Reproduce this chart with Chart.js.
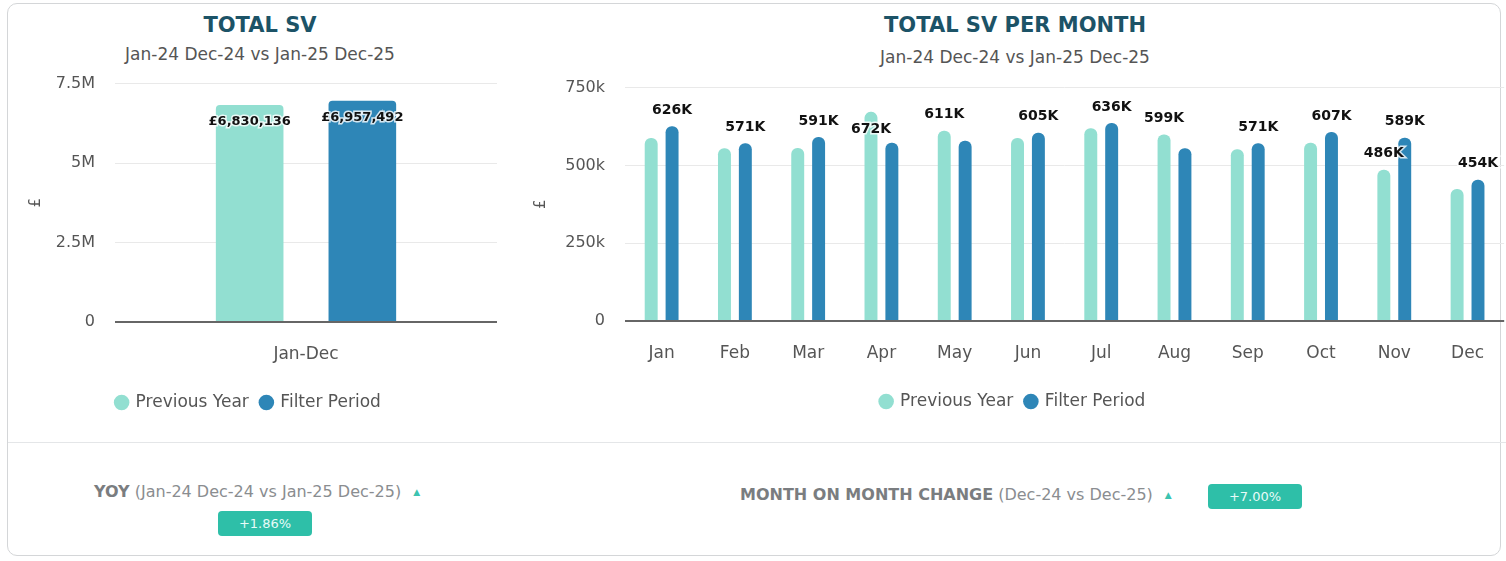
<!DOCTYPE html>
<html>
<head>
<meta charset="utf-8">
<script src="https://cdn.jsdelivr.net/npm/chart.js@4"></script>
<style>
  body { margin: 0; background: #fff; font-family: 'DejaVu Sans', sans-serif; }
  #wrap { position: relative; width: 1506px; height: 561px; overflow: hidden; }
  .card { position: absolute; left: 7px; top: 3px; width: 1494px; height: 553px;
          border: 1.5px solid #d4d6d8; border-radius: 10px; box-sizing: border-box; }
  .divider { position: absolute; left: 8px; top: 442px; width: 1498px; height: 1px; background: #e4e6e8; }
  .title { position: absolute; font-weight: 700; font-size: 21px; color: #1c5367; text-align: center; }
  .sub { position: absolute; font-size: 17px; color: #555; text-align: center; }
  canvas { position: absolute; }
  .stat { position: absolute; font-size: 16px; color: #8a8d90; white-space: nowrap; }
  .stat b { color: #7a7d80; }
  .arrow { color: #3cc3b0; font-size: 9px; margin-left: 12px; vertical-align: 2px; }
  .badge { position: absolute; background: #2ebfa8; color: #e8fbf8; font-size: 13px; text-align: center;
           border-radius: 4px; line-height: 25px; height: 25px; }
</style>
</head>
<body>
<div id="wrap">
  <div class="card"></div>
  <div class="divider"></div>

  <div class="title" style="left:0;width:520px;top:13px;">TOTAL SV</div>
  <div class="sub" style="left:0;width:520px;top:44px;">Jan-24 Dec-24 vs Jan-25 Dec-25</div>
  <div class="title" style="left:520px;width:990px;top:13px;">TOTAL SV PER MONTH</div>
  <div class="sub" style="left:520px;width:990px;top:47px;">Jan-24 Dec-24 vs Jan-25 Dec-25</div>

  <canvas id="totalChart" style="left:0;top:54px;" width="520" height="386"></canvas>
  <canvas id="monthChart" style="left:520px;top:58px;" width="986" height="382"></canvas>

  <div class="stat" style="left:94px;top:482px;"><b>YOY</b> (Jan-24 Dec-24 vs Jan-25 Dec-25)<span class="arrow">&#9650;</span></div>
  <div class="badge" style="left:218px;top:511px;width:94px;">+1.86%</div>
  <div class="stat" style="left:740px;top:485px;"><b>MONTH ON MONTH CHANGE</b> (Dec-24 vs Dec-25)<span class="arrow">&#9650;</span></div>
  <div class="badge" style="left:1208px;top:484px;width:94px;">+7.00%</div>
</div>

<script>
// data
var seriesNames = ['Previous Year', 'Filter Period'];
var totalLabels = ['Jan-Dec'];
var totalPrevious = [6830136];
var totalFilter = [6957492];

var months = ['Jan', 'Feb', 'Mar', 'Apr', 'May', 'Jun', 'Jul', 'Aug', 'Sep', 'Oct', 'Nov', 'Dec'];
// monthly values in thousands (£k)
var monthPrevious = [588, 555, 556, 672, 611, 588, 619, 599, 552, 573, 486, 424];
var monthFilter = [626, 571, 591, 573, 579, 605, 636, 555, 571, 607, 589, 454];

var lightColor = '#92dfd1';
var darkColor = '#2e86b7';
var tickColor = '#555';
var fontFamily = "'DejaVu Sans', sans-serif";

// draws value labels above bars (inside when no room), hides overlapping ones
function barLabels(formatter, size) {
    return {
        id: 'barLabels',
        afterDatasetsDraw: function (chart) {
            var ctx = chart.ctx;
            var area = chart.chartArea;
            var items = [];
            chart.data.datasets.forEach(function (ds, di) {
                var meta = chart.getDatasetMeta(di);
                meta.data.forEach(function (bar, i) {
                    items.push({ value: ds.data[i], x: bar.x, top: bar.y, index: i });
                });
            });
            items.sort(function (a, b) { return b.value - a.value; });
            ctx.save();
            ctx.font = 'bold ' + size + 'px ' + fontFamily;
            ctx.textAlign = 'center';
            ctx.textBaseline = 'middle';
            var placed = [];
            items.forEach(function (it) {
                var text = formatter(it.value);
                var w = ctx.measureText(text).width;
                var y = it.top - 16;
                if (y < area.top + 12) y = it.top + 17;
                var box = { l: it.x - w / 2, r: it.x + w / 2, t: y - 8, b: y + 8 };
                var hit = placed.some(function (p) {
                    return box.l < p.r && box.r > p.l && box.t < p.b && box.b > p.t;
                });
                if (hit) return;
                placed.push(box);
                ctx.lineWidth = 3;
                ctx.strokeStyle = 'rgba(255,255,255,0.8)';
                ctx.strokeText(text, it.x, y);
                ctx.fillStyle = '#111';
                ctx.fillText(text, it.x, y);
            });
            ctx.restore();
        }
    };
}

function gridColor(c) {
    return c.tick && c.tick.value === 0 ? '#666' : '#e9e9e9';
}
function gridWidth(c) {
    return c.tick && c.tick.value === 0 ? 2 : 1;
}

function baseOptions(yWidth, yMax, yStep, yFormat, padBottom, padRight) {
    return {
        responsive: false,
        animation: false,
        layout: { padding: { top: 0, right: padRight, bottom: padBottom, left: 0 } },
        plugins: {
            title: { display: false },
            tooltip: { enabled: false },
            legend: {
                position: 'bottom',
                labels: {
                    usePointStyle: true,
                    pointStyle: 'circle',
                    boxWidth: 11,
                    boxHeight: 11,
                    padding: 12,
                    color: tickColor,
                    font: { family: fontFamily, size: 17 }
                }
            }
        },
        scales: {
            x: {
                grid: { display: false, drawTicks: false },
                border: { display: false },
                ticks: { color: tickColor, padding: 22, font: { family: fontFamily, size: 17 } },
                afterFit: function (s) { s.height = 60; }
            },
            y: {
                min: 0,
                max: yMax,
                border: { display: false },
                grid: { color: gridColor, lineWidth: gridWidth, drawTicks: false },
                ticks: {
                    stepSize: yStep,
                    color: tickColor,
                    padding: 20,
                    font: { family: fontFamily, size: 16 },
                    callback: yFormat
                },
                title: {
                    display: true,
                    text: '£',
                    color: tickColor,
                    padding: { top: 0, bottom: 0 },
                    font: { family: fontFamily, size: 15 }
                },
                afterFit: function (s) { s.width = yWidth; }
            }
        }
    };
}

function drawTotalChart() {
    var totalContext = document.getElementById('totalChart');
    var opts = baseOptions(115, 7500000, 2500000, function (v) {
        return v === 0 ? '0' : (v / 1000000) + 'M';
    }, 19, 23);
    opts.scales.y.title.padding = { top: 27, bottom: 0 };
    new Chart(totalContext, {
        type: 'bar',
        data: {
            labels: totalLabels,
            datasets: [{
                label: seriesNames[0],
                data: totalPrevious,
                backgroundColor: lightColor,
                borderRadius: { topLeft: 4, topRight: 4 },
                borderSkipped: 'bottom',
                categoryPercentage: 0.59,
                barPercentage: 0.6
            }, {
                label: seriesNames[1],
                data: totalFilter,
                backgroundColor: darkColor,
                borderRadius: { topLeft: 4, topRight: 4 },
                borderSkipped: 'bottom',
                categoryPercentage: 0.59,
                barPercentage: 0.6
            }]
        },
        options: opts,
        plugins: [barLabels(function (v) { return '£' + v.toLocaleString('en-GB'); }, 13)]
    });
}

function drawMonthChart() {
    var monthContext = document.getElementById('monthChart');
    var opts = baseOptions(105, 750, 250, function (v) {
        return v === 0 ? '0' : v + 'k';
    }, 20, 0);
    opts.scales.y.title.padding = { top: 12, bottom: 0 };
    new Chart(monthContext, {
        type: 'bar',
        data: {
            labels: months,
            datasets: [{
                label: seriesNames[0],
                data: monthPrevious,
                backgroundColor: lightColor,
                borderRadius: { topLeft: 6, topRight: 6 },
                borderSkipped: 'bottom',
                categoryPercentage: 0.57,
                barPercentage: 0.62
            }, {
                label: seriesNames[1],
                data: monthFilter,
                backgroundColor: darkColor,
                borderRadius: { topLeft: 6, topRight: 6 },
                borderSkipped: 'bottom',
                categoryPercentage: 0.57,
                barPercentage: 0.62
            }]
        },
        options: opts,
        plugins: [barLabels(function (v) { return Math.round(v) + 'K'; }, 14)]
    });
}

drawTotalChart();
drawMonthChart();
</script>
</body>
</html>
